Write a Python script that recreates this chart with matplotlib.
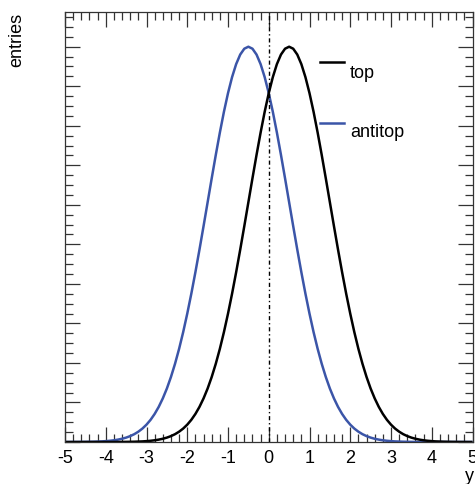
import matplotlib
matplotlib.use("Agg")
import matplotlib.pyplot as plt
from matplotlib.ticker import MultipleLocator, NullFormatter

# ---- data (peak normalised to 1) ----
# sampling grid along the rapidity axis: -5.0, -4.9, ..., 5.0
x_vals = [round(-5 + 0.1 * i, 1) for i in range(101)]
top_vals = [0, 0, 0, 0, 0, 0, 0, 0, 0, 0, 0, 0,
            0.0001, 0.0001, 0.0002, 0.0003, 0.0005, 0.0007, 0.0011, 0.0015, 0.0022, 0.0031,
            0.0043, 0.0060, 0.0082, 0.0111, 0.0149, 0.0198, 0.0261, 0.0340, 0.0439, 0.0561,
            0.0710, 0.0889, 0.1103, 0.1353, 0.1645, 0.1979, 0.2357, 0.2780, 0.3247, 0.3753,
            0.4296, 0.4868, 0.5461, 0.6065, 0.6670, 0.7261, 0.7827, 0.8353, 0.8825, 0.9231,
            0.9560, 0.9802, 0.9950,
            1.0,
            0.9950, 0.9802, 0.9560, 0.9231, 0.8825, 0.8353, 0.7827, 0.7261, 0.6670, 0.6065,
            0.5461, 0.4868, 0.4296, 0.3753, 0.3247, 0.2780, 0.2357, 0.1979, 0.1645, 0.1353,
            0.1103, 0.0889, 0.0710, 0.0561, 0.0439, 0.0340, 0.0261, 0.0198, 0.0149, 0.0111,
            0.0082, 0.0060, 0.0043, 0.0031, 0.0022, 0.0015, 0.0011, 0.0007, 0.0005, 0.0003,
            0.0002, 0.0001, 0.0001, 0, 0]
antitop_vals = [0, 0,
                0.0001, 0.0001, 0.0002, 0.0003, 0.0005, 0.0007, 0.0011, 0.0015, 0.0022, 0.0031,
                0.0043, 0.0060, 0.0082, 0.0111, 0.0149, 0.0198, 0.0261, 0.0340, 0.0439, 0.0561,
                0.0710, 0.0889, 0.1103, 0.1353, 0.1645, 0.1979, 0.2357, 0.2780, 0.3247, 0.3753,
                0.4296, 0.4868, 0.5461, 0.6065, 0.6670, 0.7261, 0.7827, 0.8353, 0.8825, 0.9231,
                0.9560, 0.9802, 0.9950,
                1.0,
                0.9950, 0.9802, 0.9560, 0.9231, 0.8825, 0.8353, 0.7827, 0.7261, 0.6670, 0.6065,
                0.5461, 0.4868, 0.4296, 0.3753, 0.3247, 0.2780, 0.2357, 0.1979, 0.1645, 0.1353,
                0.1103, 0.0889, 0.0710, 0.0561, 0.0439, 0.0340, 0.0261, 0.0198, 0.0149, 0.0111,
                0.0082, 0.0060, 0.0043, 0.0031, 0.0022, 0.0015, 0.0011, 0.0007, 0.0005, 0.0003,
                0.0002, 0.0001, 0.0001,
                0, 0, 0, 0, 0, 0, 0, 0, 0, 0, 0, 0]
series_labels = ["top", "antitop"]
x_ticks = [-5, -4, -3, -2, -1, 0, 1, 2, 3, 4, 5]
x_tick_labels = ["-5", "-4", "-3", "-2", "-1", "0", "1", "2", "3", "4", "5"]
x_label = "y"
y_label = "entries"

W, H = 475, 485
plt.rcParams['font.family'] = ['Liberation Sans', 'DejaVu Sans']
fig = plt.figure(figsize=(W / 100, H / 100), dpi=100)
ax = fig.add_axes([65 / W, 1 - 443 / H, (472.5 - 65) / W, (443 - 12.7) / H])

blue = "#3b55a8"
ax.plot(x_vals, antitop_vals, color=blue, lw=1.8, solid_capstyle='butt')
ax.plot(x_vals, top_vals, color="black", lw=1.8, solid_capstyle='butt')
ax.axvline(0, color="black", lw=1.0, linestyle=(0, (3, 2, 1, 2)))

ax.set_xlim(-5, 5)
ax.set_ylim(0, 1.0886)

ax.xaxis.set_minor_locator(MultipleLocator(0.2))
ax.yaxis.set_major_locator(MultipleLocator(0.1))
ax.yaxis.set_minor_locator(MultipleLocator(0.025))
ax.yaxis.set_major_formatter(NullFormatter())
ax.tick_params(which='both', direction='in', top=True, right=True, width=0.9, color='#333333')
ax.tick_params(which='major', length=11, pad=5, labelsize=13)
ax.tick_params(which='minor', length=5.5)
for sp in ax.spines.values():
    sp.set_linewidth(0.9)
    sp.set_color('#333333')

ax.set_xticks(x_ticks)
ax.set_xticklabels(x_tick_labels)

# legend drawn manually
def fx(px):
    return px / W

def fy(py):
    return 1 - py / H

for lbl, col, ly, ty in [(series_labels[0], "black", 63, 78), (series_labels[1], blue, 124, 137)]:
    fig.add_artist(plt.Line2D([fx(320), fx(344)], [fy(ly), fy(ly)], color=col, lw=1.8,
                              transform=fig.transFigure))
    fig.text(fx(350), fy(ty), lbl, fontsize=13, ha='left', va='baseline')

fig.text(fx(17), fy(13), y_label, rotation=90, fontsize=13, ha='center', va='top')
fig.text(fx(474), fy(481), x_label, fontsize=13, ha='right', va='baseline')

fig.savefig("out.png", dpi=100)
